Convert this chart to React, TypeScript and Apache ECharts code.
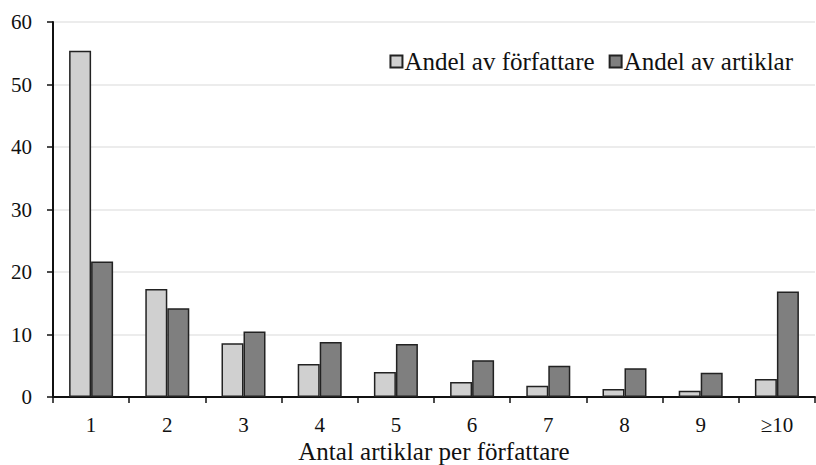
import React, { useEffect, useRef } from "react";
import * as echarts from "echarts";

const categories = ["1", "2", "3", "4", "5", "6", "7", "8", "9", "≥10"];
const authorsShare = [55.4, 17.3, 8.6, 5.3, 4.0, 2.4, 1.8, 1.3, 1.0, 2.9];
const articlesShare = [21.7, 14.2, 10.5, 8.8, 8.5, 5.9, 5.0, 4.6, 3.9, 16.9];
const seriesNames = ["Andel av författare", "Andel av artiklar"];
const xTitle = "Antal artiklar per författare";

const FONT = "'Liberation Serif', 'DejaVu Serif', serif";

export default function App() {
  const ref = useRef<HTMLDivElement>(null);
  useEffect(() => {
    if (!ref.current) return;
    const chart = echarts.init(ref.current, undefined, { renderer: "svg" });
    chart.setOption({
      animation: false,
      textStyle: { fontFamily: FONT, color: "#111" },
      grid: { left: 53, right: 1, top: 22, bottom: 68, containLabel: false, outerBoundsMode: "none" },
      legend: {
        right: 18,
        top: 44,
        itemWidth: 12,
        itemHeight: 12,
        itemGap: 14,
        icon: "rect",
        textStyle: { fontFamily: FONT, fontSize: 25, color: "#111", padding: [0, 0, 0, -3] },
        data: seriesNames,
      },
      xAxis: {
        type: "category",
        data: categories,
        boundaryGap: true,
        axisLine: { lineStyle: { color: "#111", width: 2 } },
        axisTick: { show: true, length: 6, lineStyle: { color: "#111", width: 1.5 } },
        axisLabel: { fontFamily: FONT, fontSize: 21, lineHeight: 21, color: "#111", margin: 17 },
        name: xTitle,
        nameLocation: "middle",
        nameGap: 54,
        nameMoveOverlap: false,
        nameTextStyle: { fontFamily: FONT, fontSize: 25, lineHeight: 25, color: "#111", verticalAlign: "middle" },
      },
      yAxis: {
        type: "value",
        min: 0,
        max: 60,
        interval: 10,
        axisLine: { show: true, lineStyle: { color: "#111", width: 2 } },
        axisTick: { show: true, length: 6, lineStyle: { color: "#111", width: 1.5 } },
        axisLabel: { fontFamily: FONT, fontSize: 21, color: "#111", margin: 21 },
        splitLine: { show: true, lineStyle: { color: "#e6e6e6", width: 1.5 } },
      },
      series: [
        {
          name: seriesNames[0],
          type: "bar",
          data: authorsShare,
          barWidth: 22,
          barGap: "0%",
          itemStyle: { color: "#d0d0d0", borderColor: "#222", borderWidth: 1.5 },
        },
        {
          name: seriesNames[1],
          type: "bar",
          data: articlesShare,
          barWidth: 22,
          barGap: "0%",
          itemStyle: { color: "#7f7f7f", borderColor: "#222", borderWidth: 1.5 },
        },
      ],
    });
    return () => chart.dispose();
  }, []);
  return <div ref={ref} style={{ width: 816, height: 465, position: "absolute", left: 0, top: 0 }} />;
}
